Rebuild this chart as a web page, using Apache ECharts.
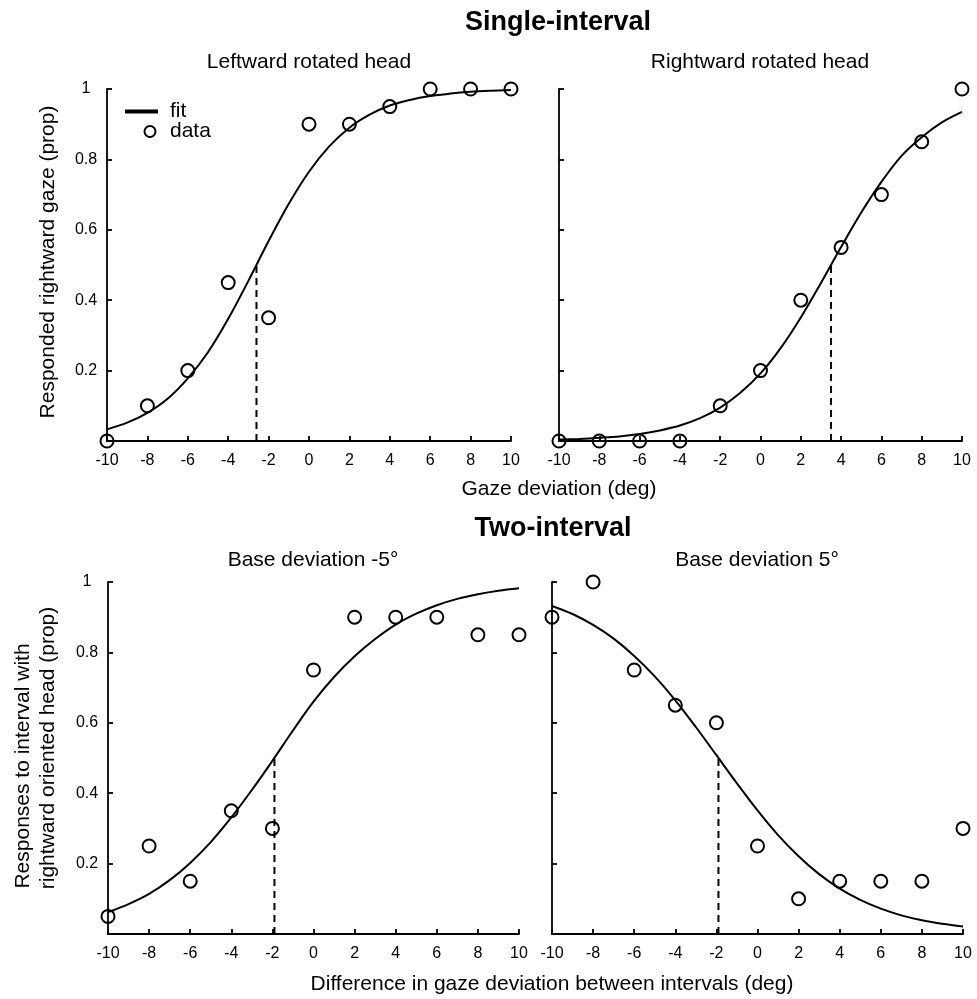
<!DOCTYPE html>
<html>
<head>
<meta charset="utf-8">
<script src="https://cdn.jsdelivr.net/npm/echarts@6/dist/echarts.min.js"></script>
<style>
html,body{margin:0;padding:0;background:#fff;}
#chart{width:977px;height:999px;}
</style>
</head>
<body>
<div id="chart"></div>
<script>
// ---- data ----
const xTickValues = [-10, -8, -6, -4, -2, 0, 2, 4, 6, 8, 10];
const dataX = [-10, -8, -6, -4, -2, 0, 2, 4, 6, 8, 10];
const leftwardData   = [0, 0.10, 0.20, 0.45, 0.35, 0.90, 0.90, 0.95, 1.00, 1.00, 1.00];
const rightwardData  = [0, 0, 0, 0, 0.10, 0.20, 0.40, 0.55, 0.70, 0.85, 1.00];
const baseMinus5Data = [0.05, 0.25, 0.15, 0.35, 0.30, 0.75, 0.90, 0.90, 0.90, 0.85, 0.85];
const basePlus5Data  = [0.90, 1.00, 0.75, 0.65, 0.60, 0.25, 0.10, 0.15, 0.15, 0.15, 0.30];

const fitX = [-10, -9, -8, -7, -6, -5, -4, -3, -2, -1, 0, 1, 2, 3, 4, 5, 6, 7, 8, 9, 10];
const leftwardFit   = [0.033, 0.052, 0.080, 0.120, 0.178, 0.252, 0.347, 0.455, 0.568, 0.674, 0.765, 0.837, 0.890, 0.927, 0.953, 0.969, 0.980, 0.987, 0.992, 0.995, 0.997];
const rightwardFit  = [0.004, 0.006, 0.009, 0.013, 0.020, 0.030, 0.044, 0.065, 0.095, 0.137, 0.192, 0.264, 0.351, 0.449, 0.551, 0.649, 0.736, 0.810, 0.863, 0.905, 0.935];
const baseMinus5Fit = [0.062, 0.085, 0.114, 0.153, 0.202, 0.261, 0.331, 0.409, 0.492, 0.578, 0.660, 0.730, 0.789, 0.838, 0.879, 0.910, 0.934, 0.952, 0.965, 0.975, 0.982];
const basePlus5Fit  = [0.932, 0.909, 0.878, 0.839, 0.790, 0.732, 0.664, 0.588, 0.508, 0.428, 0.351, 0.281, 0.221, 0.170, 0.129, 0.097, 0.072, 0.053, 0.039, 0.029, 0.021];

const thresholdX = [-2.6, 3.5, -1.9, -1.9];
const thresholdY = [0, 0.5];

const panelTitles = ['Leftward rotated head', 'Rightward rotated head', 'Base deviation -5°', 'Base deviation 5°'];
const mainTitles = ['Single-interval', 'Two-interval'];
const xAxisTitles = ['Gaze deviation (deg)', 'Difference in gaze deviation between intervals (deg)'];
const yAxisTitleTop = 'Responded rightward gaze (prop)';
const yAxisTitleBottom = ['Responses to interval with', 'rightward oriented head (prop)'];
const legendNames = ['fit', 'data'];

// ---- chart ----
const FONT = '"Liberation Sans", Arial, sans-serif';
const panelData = [leftwardData, rightwardData, baseMinus5Data, basePlus5Data];
const panelFit = [leftwardFit, rightwardFit, baseMinus5Fit, basePlus5Fit];

const grids = [
  {left: 107, top: 89, width: 404, height: 352},
  {left: 559, top: 89, width: 403, height: 352},
  {left: 108, top: 582, width: 411, height: 352},
  {left: 552, top: 582, width: 411, height: 352}
];

const axisLine = {show: true, onZero: false, lineStyle: {color: '#000', width: 1.8}};
const axisTick = {show: true, inside: true, length: 5, lineStyle: {color: '#000', width: 1.8}};

const xAxes = grids.map((g, i) => ({
  type: 'value', gridIndex: i, min: -10, max: 10, interval: 2,
  axisLine, axisTick, splitLine: {show: false},
  axisLabel: {color: '#000', fontSize: 16, fontFamily: FONT, margin: 12,
    customValues: xTickValues}
}));
const yAxes = grids.map((g, i) => ({
  type: 'value', gridIndex: i, min: 0, max: 1, interval: 0.2,
  axisLine, axisTick, splitLine: {show: false},
  axisLabel: {show: i % 2 === 0, color: '#000', fontSize: 16, fontFamily: FONT,
    margin: 21, align: 'center', formatter: v => (v === 0 ? '' : String(v))}
}));

const series = [];
for (let i = 0; i < 4; i++) {
  series.push({
    type: 'line', xAxisIndex: i, yAxisIndex: i,
    data: fitX.map((x, k) => [x, panelFit[i][k]]),
    smooth: 0.35, showSymbol: false, symbol: 'none', silent: true,
    lineStyle: {color: '#000', width: 2}, z: 2
  });
  series.push({
    type: 'line', xAxisIndex: i, yAxisIndex: i,
    data: thresholdY.map(y => [thresholdX[i], y]),
    showSymbol: false, symbol: 'none', silent: true,
    lineStyle: {color: '#000', width: 2, type: [7, 5]}, z: 2
  });
  series.push({
    type: 'scatter', xAxisIndex: i, yAxisIndex: i,
    data: dataX.map((x, k) => [x, panelData[i][k]]),
    symbol: 'circle', symbolSize: 13, clip: false,
    itemStyle: {color: 'rgba(0,0,0,0)', borderColor: '#000', borderWidth: 2, opacity: 1},
    z: 3
  });
}

function txt(text, x, y, font, extra) {
  return Object.assign({
    type: 'text', x: x, y: y, silent: true,
    style: {text: text, font: font, fill: '#000', align: 'center', verticalAlign: 'middle'}
  }, extra || {});
}

const graphics = [
  txt(mainTitles[0], 558, 23, 'bold 27px ' + FONT),
  txt(mainTitles[1], 553, 529, 'bold 27px ' + FONT),
  txt(panelTitles[0], 309, 62, '21px ' + FONT),
  txt(panelTitles[1], 760, 62, '21px ' + FONT),
  txt(panelTitles[2], 313, 560, '21px ' + FONT),
  txt(panelTitles[3], 757, 560, '21px ' + FONT),
  txt(xAxisTitles[0], 559, 489, '21px ' + FONT),
  txt(xAxisTitles[1], 552, 984, '21px ' + FONT),
  txt(yAxisTitleTop, 48, 262, '21px ' + FONT, {rotation: Math.PI / 2}),
  txt(yAxisTitleBottom[0], 23, 766, '21px ' + FONT, {rotation: Math.PI / 2}),
  txt(yAxisTitleBottom[1], 48, 748, '21px ' + FONT, {rotation: Math.PI / 2}),
  // legend
  {type: 'rect', silent: true, shape: {x: 125, y: 109.5, width: 33, height: 4}, style: {fill: '#000'}},
  {type: 'circle', silent: true, shape: {cx: 150, cy: 131.5, r: 5.5}, style: {fill: 'none', stroke: '#000', lineWidth: 2}},
  {type: 'text', silent: true, x: 170, y: 111.5, style: {text: legendNames[0], font: '21px ' + FONT, fill: '#000', align: 'left', verticalAlign: 'middle'}},
  {type: 'text', silent: true, x: 170, y: 131, style: {text: legendNames[1], font: '21px ' + FONT, fill: '#000', align: 'left', verticalAlign: 'middle'}}
];

const chart = echarts.init(document.getElementById('chart'), null, {renderer: 'canvas'});
chart.setOption({
  backgroundColor: '#fff',
  animation: false,
  grid: grids,
  xAxis: xAxes,
  yAxis: yAxes,
  series: series,
  graphic: graphics
});
</script>
</body>
</html>
